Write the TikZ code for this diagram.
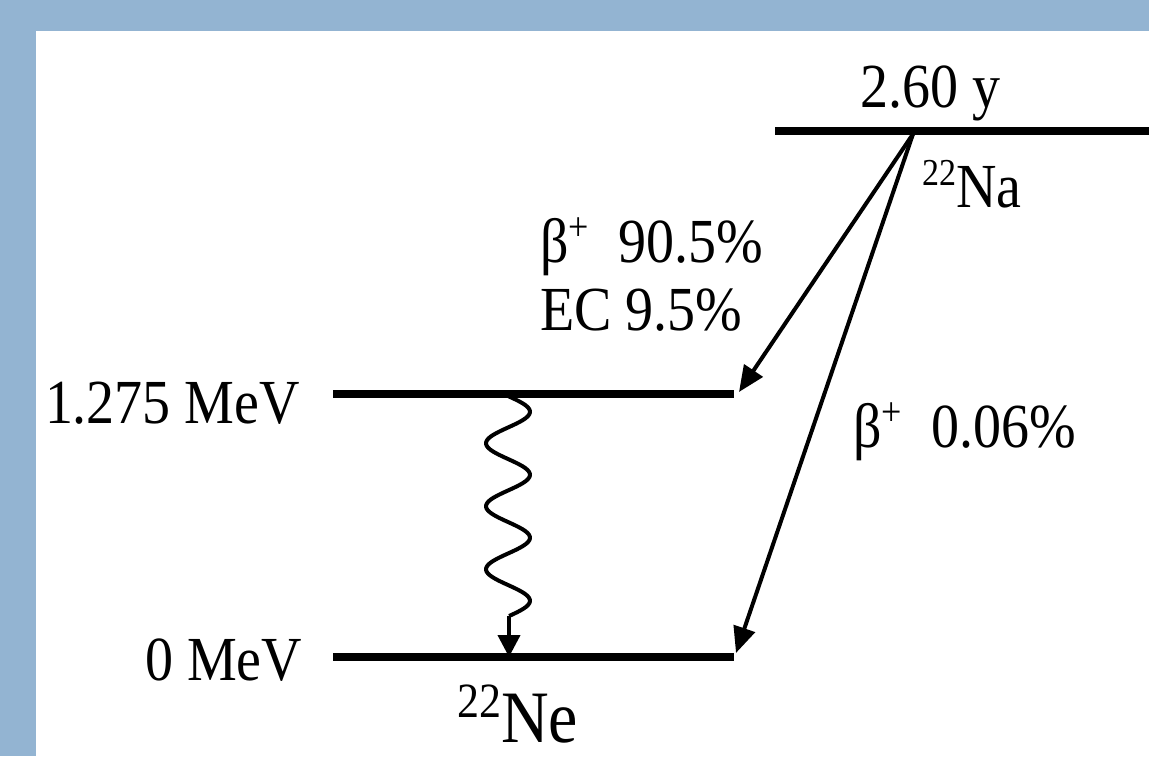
\documentclass[tikz,border=0pt]{standalone}
\usepackage{fontspec}
\setmainfont{Liberation Serif}
\usetikzlibrary{arrows.meta}
\definecolor{frame}{HTML}{93B4D2}
\newcommand{\vtxt}[1]{\scalebox{1}[1.12]{#1}}
\newcommand{\supx}[3]{{\fontsize{#1}{#1}\selectfont\raisebox{#2}{#3}}}
\tikzset{
  lbl/.style={anchor=base west, inner sep=0pt, outer sep=0pt, font=\fontsize{56}{60}\selectfont},
  level/.style={line width=8.5pt},
  decay/.style={line width=4pt, -{Triangle[length=26pt,width=22pt]}},
}
\begin{document}
\begin{tikzpicture}[x=1pt,y=-1pt]
\useasboundingbox (0,0) rectangle (1149,756);
\fill[frame] (0,0) rectangle (1149,756);
\fill[white] (36,31) rectangle (1149,756);
% level end points
\coordinate (naL) at (775,131);
\coordinate (naR) at (1149,131);
\coordinate (exL) at (333,394);
\coordinate (exR) at (734,394);
\coordinate (gsL) at (333,657);
\coordinate (gsR) at (734,657);
\coordinate (src) at (913,134);
\coordinate (t1) at (739,392);
\coordinate (t2) at (736,653);
\coordinate (wtop) at (513,396);
\coordinate (wend) at (509,616);
\coordinate (wtip) at (509,657);
% levels
\draw[level] (naL) -- (naR);
\draw[level] (exL) -- (exR);
\draw[level] (gsL) -- (gsR);
% decays
\draw[decay] (src) -- (t1);
\draw[decay] (src) -- (t2);
% gamma
\draw[line width=4pt, line join=round]
  plot[domain=0:220, samples=120, smooth] ({508+22*sin(5.7143*\x)}, {\x+396})
  -- (wend);
\draw[line width=4pt, -{Triangle[length=22pt,width=22pt]}] (wend) -- (wtip);
% labels
\node[lbl] (half) at (860,107) {\vtxt{2.60 y}};
\node[lbl] (na) at (922,207) {\vtxt{\supx{34}{19pt}{22}Na}};
\node[lbl] (b1) at (540,262) {\vtxt{β\supx{36}{19pt}{+}\hspace{30pt}90.5\%}};
\node[lbl] (ec) at (540,330) {\vtxt{EC 9.5\%}};
\node[lbl] (e1) at (45,423) {\vtxt{1.275 MeV}};
\node[lbl] (b2) at (853,447) {\vtxt{β\supx{36}{19pt}{+}\hspace{30pt}0.06\%}};
\node[lbl] (e0) at (145,680) {\vtxt{0 MeV}};
\node[lbl, font=\fontsize{66}{70}\selectfont] (ne) at (457,742) {\vtxt{\supx{44}{22pt}{22}Ne}};
\end{tikzpicture}
\end{document}
